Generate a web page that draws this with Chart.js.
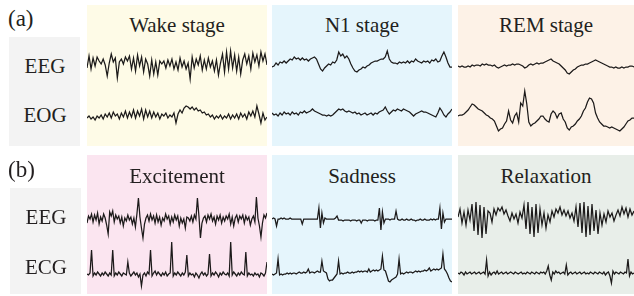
<!DOCTYPE html>
<html>
<head>
<meta charset="utf-8">
<script src="https://cdn.jsdelivr.net/npm/chart.js@4"></script>
<style>
  html,body{margin:0;padding:0;background:#fff;}
  #root{position:relative;width:634px;height:296px;overflow:hidden;font-family:"Liberation Serif","Times New Roman",serif;color:#231f20;}
  .box{position:absolute;}
  .txt{position:absolute;white-space:nowrap;}
  canvas{position:absolute;}
</style>
</head>
<body>
<div id="root"></div>
<script>
// ---- data (amplitudes, arbitrary units) ----
const rowLabels = ["(a)", "(b)"];
const rowATitles = ["Wake stage", "N1 stage", "REM stage"];
const rowBTitles = ["Excitement", "Sadness", "Relaxation"];
const rowAChannels = ["EEG", "EOG"];
const rowBChannels = ["EEG", "ECG"];

const wakeEEG = [-2,10,-3,8,0,9, 5,2,7,1,-10,3, 12,4,8,-12, 4,7,2,9,5, 10,-3,8,-5,11,0,9,-6,7,2, -10,6,-8,4,-9,5,2, 5,-2,6,0,7,-3,4,-4,8,-1,5,-3,3, -13, 9,-2,7,1,10,-4,6,-3,8,-1,5,-5,6,-9,3, 12,-6,14,-3,15,-2,11,-5,9,-8, 6,12,2,10,-3,13,4,11,0,14,5,12,1];
const wakeEOG = [-2,0,-3,-1,-4,0,-2,1,-3,2,-1, 3,-2,4,0,2,-3,3,-1,5,-2, 4,-1,6,-2,5,0,7,-3,6,-1, 5,-2,4,-1,3,-3,2,0,3,-2, 1,-1,3,-7,2, 6,3,8,10,9,7,9, 6,8,5,6,3,4,1,2, -1,1,-3,0,-2,1,-3,0,-2,2, -3,1,-2,2,-3,3,-1,2,-3,4, 0,5,-1,10,2,-7,3,-4,-1];
const n1EEG = [-3,-2,1,-1,2,1,3,1,3,5,4,7,5,6,4,6,4,5,3,5,6,7,5,0,-5,-7,-4,-2,0,-1,2,1,4,12,8,10,6,8,5,0,-4,-7,-8,-6,-5,-3,-4,-2,-1,1,2,3,3,4,5,5,7,13,5,2,1,1,0,2,1,2,1,3,1,3,2,5,3,2,1,3,2,3,1,4,3,5,2,3,8,12,7,1,-3,-3];
const n1EOG = [1,-1,0,-2,1,-1,2,0,1,-1, 2,0,1,-1,2,1,3,1,2,3, 5,3,2,1,0,-1,-1,-2,-1,-2, -1,1,3,5,4,5,3,2,3,2, 1,2,0,1,-1,0,1,-1,0,1, -1,1,0,2,3,4,7,3,0,2, 4,3,5,4,3,5,4,3,2,0, -2,0,1,2,3,2,2,1,0,-1, -2,-3,1,6,3,-1,-3,0,2,5];
const remEEG = [0,-1,0,-1,-1,0,-1,1,0,1,1,0,2,1,2,1,1,0,1,-1,-2,-1,0,1,0,1,1,2,1,2,2,1,0,-2,-1,1,2,1,2,3,2,3,3,4,5,6,7,5,4,3,2,0,-2,-4,-7,-8,-6,-4,-3,-1,0,1,1,2,2,3,4,5,6,5,4,3,2,1,0,-1,-1,-2,-1,-2,-2,-1,-2,-1,-1,0,0,-1];
const remEOG = [0,1,1,2,4,6,9,12,11,9,7,6,5,3,1,0,-2,-3,-5,-10,-15,-13,-12,-8,-5,5,-4,-7,0,3,-6,13,10,25,12,-6,-10,-8,-7,-5,-3,0,0,-3,-5,-6,2,5,3,-2,2,3,-3,-6,-12,-14,-11,-10,-8,-5,-3,0,5,8,14,18,17,13,3,-2,-6,-8,-10,-10,-11,-12,-11,-12,-13,-14,-15,-13,-11,-8,-5,-4,-2,-2];

const excEEG = [-3,4,1,6,-2,5,0,7,-4,3, -1,6,2,-5,-14,8,4,9,-2,5, 1,4,-3,3,-6,2,-1,5,0,3, -4,2,-7,6,22,3,-8,-18,-4,2, 5,-1,6,0,4,-3,5,-2,3,-5, 2,-1,6,1,4,-4,3,-2,5,0, 4,-6,2,-3,1,-8,3,2,-1,4, -2,5,1,22,4,-18,-3,2,4,-2, 5,1,6,-1,3,-4,4,0,5,-3, 3,-1,4,1,6,-4,3,-6,2,5, -2,4,1,5,-3,4,0,3,-5,1, 4,-2,23,2,-6,-17,-3,5,2,7];
const excECG = [0,-1,1,24,-2,1,-1,2,0,-2, 1,-1,2,0,-2,1,-1,24,-2,1, -1,2,0,-2,1,0,-1,12,1,-2, 0,2,-1,1,-3,0,-12,-1,1,-2, 2,0,24,-2,1,3,-1,2,0,-2, 1,-1,2,-2,0,1,32,-2,1,-1, 2,0,-2,1,-1,2,19,-2,1,-1, 0,-3,1,-1,-4,0,2,-1,1,-2, 0,20,-2,1,-1,2,0,-3,1,-1, 2,0,-1,1,-2,32,-1,2,0,-2, 1,-1,2,0,-1,22,-2,1,-1,0, -2,1,-1,0,-3,1,0,-2,1,12];
const sadEEG = [0,1,0,-7,0,0,1,0,1,0, 0,0,1,0,0,0,0,0,0,0, -5,0,0,0,0,0,0,0,0,0, 0,11,-9,6,-4,1,0,0,0,0, 0,0,1,3,-1,-1,-1,-2,-1,-1, -1,-1,-2,-1,-1,-1,-2,-1,-1,-4, -1,-1,-1,-2,-1,-1,-1,-1,-2,-1, -1,11,-11,7,-4,0,0,0,-1,0, 0,0,8,0,-1,-1,0,-1,-1,0, -1,-1,0,-1,-1,-2,-1,-1,0,-1, -1,0,-1,-1,-1,0,-1,0,-1,0, 0,11,-10,6,-3,0,0,0,0,0];
const sadECG = [0,-1,0,1,15,-1,0,-1,0,0, 1,0,1,0,1,1,0,1,2,1, 1,2,1,2,5,1,2,2,1,2, 3,2,2,13,3,2,1,-5,-7,-6, -6,-4,-2,0,13,0,1,0,1,1, 2,1,1,2,1,2,2,3,2,3, 2,3,3,2,5,2,3,4,3,4, 3,4,5,18,4,3,-2,-7,-8,-6, -5,-4,-3,0,15,0,1,0,1,2, 1,2,2,1,2,3,2,3,2,3, 3,4,3,4,6,3,4,5,4,5, 4,5,6,20,5,3,0,-4,-7,-8];
const relaxEEG = [2,10,-4,7,-6,9,-1, 15,-12,17,-16,14,-19,12,-15,8, 6,-3,10,4,11,8,12,5,9, 3,-2,6,0,5,-4,7,1, 14,-10,17,-15,12,-18,15,-14,10, -6,6,-9,4,-3,8,2,10, 6,12,4,9,3,8,1,6,-2, 12,-8,16,-14,17,-18,13,-16,15,-12,9,-15,6, -6,5,-3,8,2,6,-2,4, 9,3,12,5,11,2,10,4,8];
const relaxECG = [0,-1,1,0,-2,1,-1,0,1,-1, 0,1,-1,0,1,-1,0,1,-1,13, -3,1,-2,0,1,-1,2,-1,0,1, -1,0,1,-1,0,1,0,-1,1,0, -1,0,1,-1,0,-1,1,0,-1,1, 0,-1,1,0,-1,1,0,1,-1,2, 7,-2,-7,1,-1,2,0,1,-1,0, 1,-1,8,-2,0,1,-1,0,1,-1, 0,1,-1,0,1,-1,0,-1,1,0, -1,1,0,-1,1,0,-1,1,-2,0, 1,-3,-10,2,-1,1,0,-1,1,0, -1,1,0,14,-3,1,-1,0];

// ---- layout (positions/styles) ----
const root = document.getElementById('root');
function box(x,y,w,h,bg){const d=document.createElement('div');d.className='box';Object.assign(d.style,{left:x+'px',top:y+'px',width:w+'px',height:h+'px',background:bg});root.appendChild(d);return d;}
function text(str,x,top,size,center,w){const d=document.createElement('div');d.className='txt';d.textContent=str;Object.assign(d.style,{top:top+'px',fontSize:size+'px',lineHeight:size+'px'});if(center){d.style.left=(x-w/2)+'px';d.style.width=w+'px';d.style.textAlign='center';}else{d.style.left=x+'px';}root.appendChild(d);}

const cols = [{x:87,w:180},{x:272,w:180},{x:458,w:176}];
const rows = [
  {top:5, h:141, gray:{x:9,y:37,w:71,h:109}, titleTop:14.7, labelTop:6.6, chanTops:[55.7,104.9], base:[[66,115.7],[64,114],[65.7,115.7]],
   titles:rowATitles, chans:rowAChannels, colors:['#fefbe7','#e5f5fc','#fdf2e7'], data:[[wakeEEG,wakeEOG],[n1EEG,n1EOG],[remEEG,remEOG]]},
  {top:155, h:139, gray:{x:10,y:188,w:71,h:106}, titleTop:165.7, labelTop:157.6, chanTops:[206.7,256.7], base:[[220.3,273.7],[218.7,273.7],[219.3,273]],
   titles:rowBTitles, chans:rowBChannels, colors:['#fbe5f0','#e5f5fc','#e8eee9'], data:[[excEEG,excECG],[sadEEG,sadECG],[relaxEEG,relaxECG]]}
];

const HALF = 32;
rows.forEach((r,ri)=>{
  box(r.gray.x,r.gray.y,r.gray.w,r.gray.h,'#f3f3f3');
  text(rowLabels[ri],8,r.labelTop,23,false);
  r.chans.forEach((c,ci)=>text(c,r.gray.x+r.gray.w/2+0.5,r.chanTops[ci],21,true,70));
  cols.forEach((c,ci)=>{
    box(c.x,r.top,c.w,r.h,r.colors[ci]);
    text(r.titles[ci],c.x+c.w/2,r.titleTop,21,true,c.w);
    r.data[ci].forEach((series,si)=>{
      const cv=document.createElement('canvas');
      const cy=r.base[ci][si];
      cv.width=c.w; cv.height=HALF*2;
      cv.style.left=c.x+'px'; cv.style.top=(cy-HALF)+'px';
      cv.style.width=c.w+'px'; cv.style.height=(HALF*2)+'px';
      root.appendChild(cv);
      new Chart(cv,{
        type:'line',
        data:{labels:series.map((_,i)=>i),datasets:[{data:series,borderColor:'#1c1a1a',borderWidth:1.25,pointRadius:0,tension:0,fill:false}]},
        options:{responsive:false,animation:false,devicePixelRatio:1,
          layout:{padding:0},
          plugins:{legend:{display:false},tooltip:{enabled:false},title:{display:false}},
          scales:{x:{display:false,offset:false},y:{display:false,min:-HALF,max:HALF}}}
      });
    });
  });
});
</script>
</body>
</html>
